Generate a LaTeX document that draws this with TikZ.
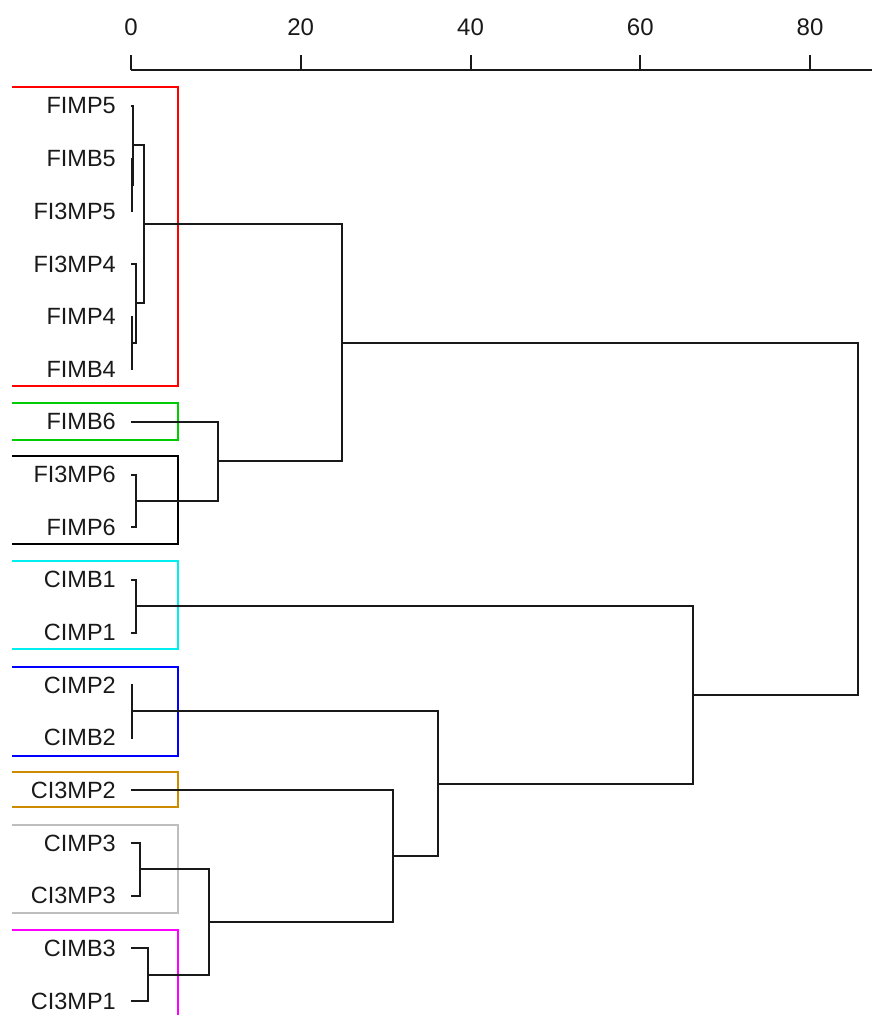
\documentclass[tikz,border=0pt]{standalone}
\usepackage{fontspec}
\setmainfont{Liberation Sans}
\usetikzlibrary{calc}

\definecolor{grpred}{RGB}{255,0,0}
\definecolor{grpgreen}{RGB}{0,205,0}
\definecolor{grpcyan}{RGB}{0,238,238}
\definecolor{grpblue}{RGB}{0,0,255}
\definecolor{grporange}{RGB}{205,140,0}
\definecolor{grpgray}{RGB}{190,190,190}
\definecolor{grpmagenta}{RGB}{255,0,255}

\tikzset{
  link/.style={draw=black!90, line width=2pt, line join=miter},
  lab/.style={anchor=east, inner sep=0pt, text=black!90, font=\fontsize{23.5}{25}\selectfont},
  ticklab/.style={inner sep=0pt, text=black!90, font=\fontsize{24}{26}\selectfont},
  grpbox/.style={line width=2pt}
}

% join two children at a given height: horizontal legs, one vertical bar
\newcommand\joinpair[4]{%
  \path let \p1=($(#2)!.5!(#3)$) in coordinate (#1) at (#4pt,\y1);
  \draw[link] (#2) -| (#1) |- (#3);
}

\begin{document}
\begin{tikzpicture}[x=1pt,y=-1pt]
\useasboundingbox (0,0) rectangle (872,1015);

% distance axis
\draw[link] (131,70) coordinate (a0) -- (872,70) coordinate (aend);
\foreach \v [count=\i from 0] in {0,20,40,60,80}{
  \pgfmathsetmacro\xx{131+\i*169.75}
  \coordinate (tk\i) at (\xx,70);
  \coordinate (tt\i) at (\xx,55);
  \draw[link] (tk\i) -- (tt\i);
  \node[ticklab] (tl\i) at (\xx,27) {\v};
}

% group boxes (open on the left)
\draw[grpbox, grpred]     (12,87)  -- (178,87)  -- (178,386) -- (12,386);
\draw[grpbox, grpgreen]   (12,403) -- (178,403) -- (178,440) -- (12,440);
\draw[grpbox, black]      (12,456) -- (178,456) -- (178,544) -- (12,544);
\draw[grpbox, grpcyan]    (12,561) -- (178,561) -- (178,649) -- (12,649);
\draw[grpbox, grpblue]    (12,667) -- (178,667) -- (178,756) -- (12,756);
\draw[grpbox, grporange]  (12,772) -- (178,772) -- (178,807) -- (12,807);
\draw[grpbox, grpgray]    (12,825) -- (178,825) -- (178,913) -- (12,913);
\draw[grpbox, grpmagenta] (12,930) -- (178,930) -- (178,1016);

% leaves: label and tip
\foreach \name [count=\i] in {FIMP5,FIMB5,FI3MP5,FI3MP4,FIMP4,FIMB4,FIMB6,FI3MP6,FIMP6,CIMB1,CIMP1,CIMP2,CIMB2,CI3MP2,CIMP3,CI3MP3,CIMB3,CI3MP1}{
  \pgfmathsetmacro\yy{106+(\i-1)*52.65}
  \node[lab] (t\i) at (116,\yy) {\name};
  \coordinate (L\i) at (131,\yy);
}

% F samples
\joinpair{m23}{L2}{L3}{132}
\joinpair{m1x}{L1}{m23}{133}
\joinpair{m56}{L5}{L6}{132}
\joinpair{m4x}{L4}{m56}{136}
\joinpair{mA}{m1x}{m4x}{144}
\joinpair{m89}{L8}{L9}{136}
\joinpair{mB}{L7}{m89}{217.5}
\joinpair{mF}{mA}{mB}{342}

% C samples
\joinpair{m1011}{L10}{L11}{136}
\joinpair{m1213}{L12}{L13}{132}
\joinpair{m1516}{L15}{L16}{140}
\joinpair{m1718}{L17}{L18}{148}
\joinpair{mC3}{m1516}{m1718}{209}
\joinpair{mC2}{L14}{mC3}{393}
\joinpair{mC1}{m1213}{mC2}{438}
\joinpair{mC}{m1011}{mC1}{693}

% root
\joinpair{root}{mF}{mC}{858}
\end{tikzpicture}
\end{document}
